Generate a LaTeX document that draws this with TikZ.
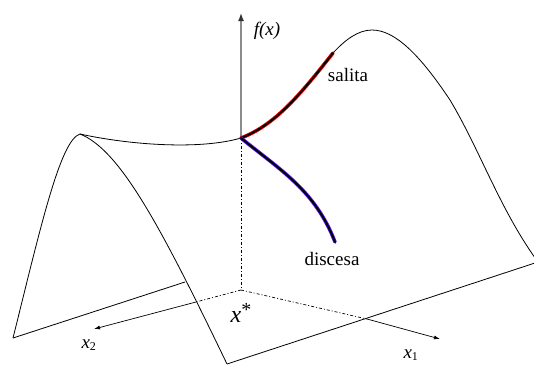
\documentclass[tikz,border=0pt]{standalone}
\usepackage{fontspec}
\setmainfont{Liberation Serif}
\usetikzlibrary{arrows.meta}
\definecolor{descblue}{RGB}{90,20,255}
\tikzset{
  surf/.style={draw=black, line width=0.8pt},
  axisline/.style={draw=black, line width=0.7pt},
  dashdotline/.style={draw=black, line width=0.7pt, dash pattern=on 3pt off 2pt on 1pt off 2pt},
  lbl/.style={font=\fontsize{19}{22}\selectfont, inner sep=0pt},
  pathunder/.style={line width=3.6pt, line cap=round},
  pathover/.style={draw=black, line width=2pt, line cap=round},
}
\begin{document}
\begin{tikzpicture}[x=1pt,y=-1pt]
\useasboundingbox (0,0) rectangle (534,365);
% key points
\coordinate (P) at (241,138);
\coordinate (O) at (241,290);
\coordinate (Top) at (241,13);
\coordinate (C2) at (196,302);
\coordinate (X2) at (94,329);
\coordinate (C1) at (367,319);
\coordinate (X1) at (440,339);
\coordinate (LP) at (80,134);
\coordinate (BL) at (13,338);
\coordinate (M2) at (185,282);
\coordinate (BC) at (227,364);
\coordinate (BR) at (538,262);
\coordinate (RE) at (333,53);
\coordinate (RP) at (372,30);
\coordinate (RM) at (450,100);
\coordinate (BE) at (335,242);
% surface
\draw[surf] (BL) .. controls (40,230) and (60,140) .. (LP);
\draw[surf] (LP) .. controls (120,150) and (160,225) .. (BC);
\draw[surf] (LP) .. controls (130,145) and (200,150) .. (P);
\draw[surf] (BL) -- (M2);
\draw[surf] (BC) -- (BR);
\draw[surf] (RE) .. controls (345,40) and (358,30) .. (RP)
  .. controls (395,30) and (420,55) .. (RM)
  .. controls (480,150) and (500,210) .. (BR);
% vertical axis
\draw[draw=gray!90, line width=1.4pt, -{Latex[length=8pt,width=6pt,color=black!80]}] (P) -- (Top);
\draw[dashdotline] (P) -- (O);
% base axes
\draw[dashdotline] (O) -- (C2);
\draw[axisline, -{Latex[length=6pt,width=4pt]}] (C2) -- (X2);
\draw[dashdotline] (O) -- (C1);
\draw[axisline, -{Latex[length=6pt,width=4pt]}] (C1) -- (X1);
% ascent path
\draw[pathunder, draw=red] (P) .. controls (275,125) and (300,95) .. (RE);
\draw[pathover] (P) .. controls (275,125) and (300,95) .. (RE);
% descent path
\draw[pathunder, draw=descblue] (P) .. controls (280,170) and (315,190) .. (BE);
\draw[pathover] (P) .. controls (280,170) and (315,190) .. (BE);
% labels
\node[lbl] (fx) at (267,31) {\itshape f(x)};
\node[lbl] (sal) at (348,75) {salita};
\node[lbl] (dis) at (332,259) {discesa};
\node[lbl, font=\fontsize{24}{26}\selectfont] (xs) at (241,313) {\itshape x\raisebox{0.28em}{\upshape\fontsize{20}{20}\selectfont *}};
\node[lbl] (x2l) at (89,345) {\itshape x\textsubscript{\upshape\fontsize{12}{12}\selectfont 2}};
\node[lbl] (x1l) at (411,355) {\itshape x\textsubscript{\upshape\fontsize{12}{12}\selectfont 1}};
\end{tikzpicture}
\end{document}
